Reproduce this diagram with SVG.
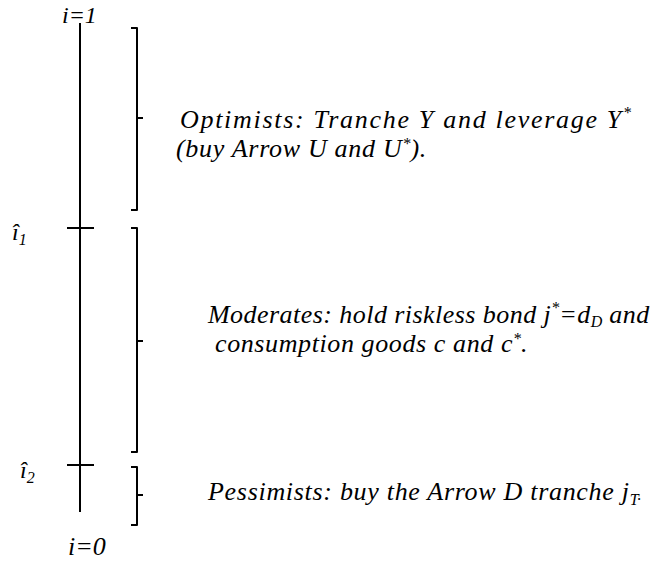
<svg xmlns="http://www.w3.org/2000/svg" width="661" height="565" viewBox="0 0 661 565">
<style>
.ln{stroke:#000;stroke-width:2;fill:none;stroke-linejoin:round}
.t{font-family:"Liberation Serif","Times New Roman",serif;font-style:italic;font-size:26px;fill:#000}
.l{font-size:24px}
.s{font-size:16px;letter-spacing:0}
</style>
<rect width="661" height="565" fill="#fff"/>
<g id="axis">
<path class="ln" d="M80 23V512M67 228H94M67 465H94"/>
<text class="t l" x="62" y="23">i=1</text>
<text class="t l" x="12" y="240">î<tspan class="s" dy="5">1</tspan></text>
<text class="t l" x="20" y="478">î<tspan class="s" dy="5">2</tspan></text>
<text class="t" x="68" y="555">i=0</text>
</g>
<g id="optimists">
<path class="ln" d="M131 28H137V210H131M137 118H143"/>
<text class="t" x="180" y="128" style="letter-spacing:1.7px">Optimists: Tranche Y and leverage Y<tspan class="s" dy="-10">*</tspan></text>
<text class="t" x="176" y="157" style="letter-spacing:0.7px">(buy Arrow U and U<tspan class="s" dy="-8">*</tspan><tspan dy="8">).</tspan></text>
</g>
<g id="moderates">
<path class="ln" d="M131 228H137V452H131M137 341H143"/>
<text class="t" x="208" y="323" style="letter-spacing:0.45px">Moderates: hold riskless bond j<tspan class="s" dy="-10">*</tspan><tspan dy="10">=d</tspan><tspan class="s" dy="4">D</tspan><tspan dy="-4"> and</tspan></text>
<text class="t" x="215" y="352" style="letter-spacing:0.6px">consumption goods c and c<tspan class="s" dy="-8">*</tspan><tspan dy="8">.</tspan></text>
</g>
<g id="pessimists">
<path class="ln" d="M131 467H137V525H131M137 495H143"/>
<text class="t" x="208" y="500" style="letter-spacing:0.7px">Pessimists: buy the Arrow D tranche j<tspan class="s" dy="5">T</tspan><tspan class="s" dy="-5">.</tspan></text>
</g>
<g id="connectors"></g>
</svg>
